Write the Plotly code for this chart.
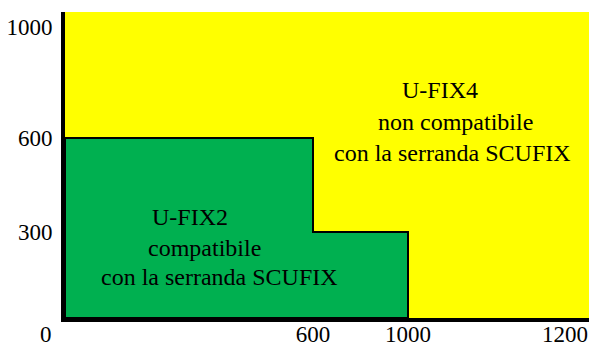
import numpy as np
import plotly.graph_objs as go

# data: compatibility limits (width x height, mm)
x_ticks = [0, 600, 1000, 1200]
x_labels = ['0', '600', '1000', '1200']
y_ticks = [0, 300, 600, 1000]
y_labels = ['0', '300', '600', '1000']

ufix2_x = [0, 0, 600, 600, 1000, 1000, 0]
ufix2_y = [0, 600, 600, 300, 300, 0, 0]

# the original drawing is schematic, not to scale:
# where each tick sits along the drawn axes (plot pixels)
x_tick_pos = [0, 248, 343, 500]
y_tick_pos = [0, 86, 180, 291]
x_axis_len = 524
y_axis_len = 306


def xmap(v):
    return np.interp(v, x_ticks, x_tick_pos)


def ymap(v):
    return np.interp(v, y_ticks, y_tick_pos)


tick_font = {'family': 'Liberation Serif', 'color': 'black', 'size': 23}
note_font = {'family': 'Liberation Serif', 'color': 'black', 'size': 24}

green = go.Scatter(x=xmap(ufix2_x),
                   y=ymap(ufix2_y),
                   mode='lines',
                   fill='toself',
                   fillcolor='rgb(0, 176, 80)',
                   line={'color': 'black', 'width': 2},
                   hoverinfo='skip',
                   showlegend=False)

layout = go.Layout(width=589,
                   height=343,
                   margin={'l': 65, 'r': 0, 't': 12, 'b': 25},
                   paper_bgcolor='white',
                   plot_bgcolor='rgb(255, 255, 0)',
                   font=tick_font,
                   xaxis={'range': [0, x_axis_len],
                          'tickvals': list(xmap(x_ticks[1:])),
                          'ticktext': x_labels[1:],
                          'showgrid': False,
                          'zeroline': False,
                          'showline': True,
                          'linecolor': 'black',
                          'linewidth': 4,
                          'ticks': '',
                          'ticklabelstandoff': -8,
                          'automargin': False,
                          'fixedrange': True},
                   yaxis={'range': [0, y_axis_len],
                          'tickvals': list(ymap(y_ticks[1:])),
                          'ticktext': y_labels[1:],
                          'showgrid': False,
                          'zeroline': False,
                          'showline': True,
                          'linecolor': 'black',
                          'linewidth': 4,
                          'ticks': '',
                          'ticklabelstandoff': 4,
                          'automargin': False,
                          'fixedrange': True})

notes = [
    ('U-FIX2', 125, 101),
    ('compatibile', 139, 70),
    ('con la serranda SCUFIX', 154, 41),
    ('U-FIX4', 375, 228),
    ('non compatibile', 390, 196),
    ('con la serranda SCUFIX', 387, 165),
]
annotations = [{'x': x, 'y': y, 'text': t, 'showarrow': False,
                'xref': 'x', 'yref': 'y', 'font': note_font}
               for t, x, y in notes]
# lone zero at the corner
annotations.append({'x': 0, 'y': 0, 'text': '0', 'showarrow': False,
                    'xref': 'paper', 'yref': 'paper',
                    'xanchor': 'right', 'yanchor': 'top',
                    'xshift': -11, 'yshift': -2,
                    'font': tick_font})
layout.update({'annotations': annotations})

fig = go.Figure([green], layout)
fig.write_html('out.html',
               config={'displayModeBar': False},
               post_script="document.body.style.margin='0';"
                           "document.body.style.overflow='hidden';")
